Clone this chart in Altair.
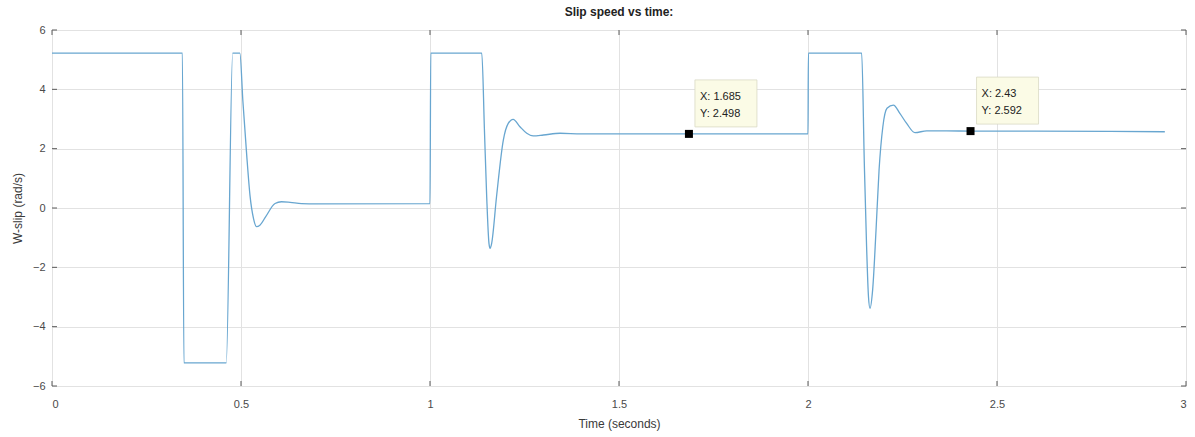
import altair as alt
import pandas as pd

# Slip speed trace (time in seconds, slip speed in rad/s)
time_s = [
    0.0, 0.345, 0.349, 0.461, 0.478, 0.497, 0.505, 0.515, 0.524, 0.533,
    0.541, 0.55, 0.565, 0.59, 0.607, 0.63, 0.66, 0.7, 1.0,
    1.002, 1.137, 1.144, 1.15, 1.156, 1.159, 1.163, 1.176, 1.194, 1.207,
    1.22, 1.238, 1.256, 1.273, 1.3, 1.344, 1.4, 2.0,
    2.001, 2.142, 2.149, 2.155, 2.16, 2.164, 2.171, 2.18, 2.188, 2.198,
    2.209, 2.226, 2.243, 2.261, 2.283, 2.314, 2.367, 2.43, 2.6, 2.8, 2.944,
]
slip = [
    5.22, 5.22, -5.22, -5.22, 5.22, 5.22, 3.6, 1.8, 0.4, -0.35,
    -0.63, -0.58, -0.3, 0.15, 0.21, 0.19, 0.15, 0.14, 0.15,
    5.22, 5.22, 2.63, 0.38, -1.19, -1.36, -1.2, 0.38, 2.29, 2.85,
    2.99, 2.74, 2.52, 2.43, 2.46, 2.52, 2.5, 2.5,
    5.22, 5.22, 1.5, -1.3, -2.99, -3.38, -2.76, -0.74, 1.28, 2.74,
    3.36, 3.47, 3.19, 2.85, 2.54, 2.6, 2.6, 2.592, 2.59, 2.58, 2.57,
]

# Data tips
tip_t = [1.685, 2.43]
tip_v = [2.498, 2.592]

x_ticks = [0, 0.5, 1, 1.5, 2, 2.5, 3]
y_ticks = [-6, -4, -2, 0, 2, 4, 6]

W, H = 1134, 356
FONT = "Liberation Sans"
LINE_BLUE = "#68a6d0"
FRAME = "#5a5a5a"

trace = pd.DataFrame({"t": time_s, "w": slip})
tips = pd.DataFrame({
    "t": tip_t,
    "w": tip_v,
    "lx": [f"X: {t}" for t in tip_t],
    "ly": [f"Y: {v}" for v in tip_v],
})
xt = pd.DataFrame({"t": x_ticks})
yt = pd.DataFrame({"w": y_ticks})

xs = alt.Scale(domain=[0, 3], nice=False, zero=False)
ys = alt.Scale(domain=[-6, 6], nice=False, zero=False)

x_axis = alt.Axis(
    values=x_ticks, ticks=False, grid=True, gridColor="#e2e2e2",
    labelFont=FONT, labelFontSize=11, labelColor="#4a4a4a", labelPadding=12,
    labelExpr="datum.value", domain=False,
    title="Time (seconds)", titleFont=FONT, titleFontSize=12,
    titleFontWeight="normal", titleColor="#3a3a3a", titlePadding=9,
)
y_axis = alt.Axis(
    values=y_ticks, ticks=False, grid=True, gridColor="#e2e2e2",
    labelFont=FONT, labelFontSize=11, labelColor="#4a4a4a", labelPadding=7,
    domain=False,
    title="W-slip (rad/s)", titleFont=FONT, titleFontSize=12,
    titleFontWeight="normal", titleColor="#3a3a3a", titlePadding=8,
)

line = alt.Chart(trace).mark_line(
    color=LINE_BLUE, strokeWidth=1.3, interpolate="monotone"
).encode(
    x=alt.X("t:Q", scale=xs, axis=x_axis),
    y=alt.Y("w:Q", scale=ys, axis=y_axis),
)

# Inward tick marks on all four sides
tick_style = dict(color=FRAME, strokeWidth=1)
xb = alt.Chart(xt).mark_rule(**tick_style).encode(
    x=alt.X("t:Q", scale=xs), y=alt.value(H), y2=alt.value(H - 5))
xtop = alt.Chart(xt).mark_rule(**tick_style).encode(
    x=alt.X("t:Q", scale=xs), y=alt.value(0), y2=alt.value(5))
yl = alt.Chart(yt).mark_rule(**tick_style).encode(
    y=alt.Y("w:Q", scale=ys), x=alt.value(0), x2=alt.value(5))
yr = alt.Chart(yt).mark_rule(**tick_style).encode(
    y=alt.Y("w:Q", scale=ys), x=alt.value(W), x2=alt.value(W - 5))

base_tip = alt.Chart(tips).encode(
    x=alt.X("t:Q", scale=xs), y=alt.Y("w:Q", scale=ys))

box = base_tip.mark_rect(
    fill="#fbfbe6", stroke="#d9d9c4", strokeWidth=0.8,
    xOffset=6, x2Offset=68, yOffset=-54, y2Offset=-7,
).encode(x2="t:Q", y2="w:Q")

txt1 = base_tip.mark_text(
    align="left", baseline="middle", dx=11, dy=-37,
    font=FONT, fontSize=11, color="#222222",
).encode(text="lx:N")
txt2 = base_tip.mark_text(
    align="left", baseline="middle", dx=11, dy=-20,
    font=FONT, fontSize=11, color="#222222",
).encode(text="ly:N")

marker = base_tip.mark_square(size=64, color="black", opacity=1)

chart = alt.layer(line, xb, xtop, yl, yr, box, txt1, txt2, marker).properties(
    width=W, height=H,
    title=alt.TitleParams(
        "Slip speed vs time:", font=FONT, fontSize=12, fontWeight="bold",
        color="#222222", anchor="middle", offset=5,
    ),
    autosize=alt.AutoSizeParams(type="none"),
    padding={"left": 52, "top": 30, "right": 9, "bottom": 51},
).configure_view(
    stroke=FRAME, strokeWidth=1
).configure(background="white")

chart.save("out.html", embed_options={"renderer": "svg", "actions": False})
